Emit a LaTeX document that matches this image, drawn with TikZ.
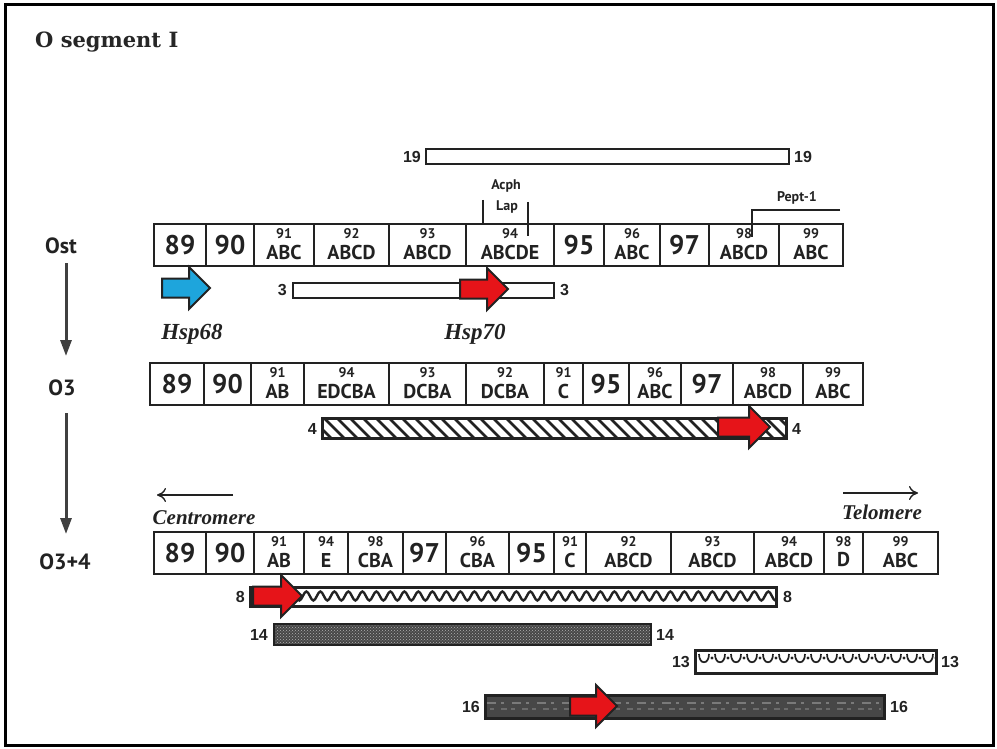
\documentclass[tikz,border=0pt]{standalone}
\usepackage{fontspec}
\setmainfont{Liberation Serif}
\setsansfont{Liberation Sans}
\newfontfamily\segfont{PT Sans}
\newfontfamily\titlefont{DejaVu Serif}
\usetikzlibrary{calc,patterns,decorations.pathmorphing,arrows.meta}
\definecolor{ink}{HTML}{222222}
\definecolor{hspred}{RGB}{230,20,25}
\definecolor{hspblue}{RGB}{30,165,220}
\def\nomark{-}
\tikzset{
 segbox/.style={draw=ink, line width=2pt, minimum height=42pt, inner sep=0pt, anchor=north west},
 bignum/.style={font=\segfont\bfseries\fontsize{27}{27}\selectfont, text=ink, inner sep=0pt},
 supnum/.style={font=\segfont\bfseries\fontsize{14}{14}\selectfont, text=ink, inner sep=0pt},
 bandltr/.style={font=\segfont\bfseries\fontsize{20}{20}\selectfont, text=ink, inner sep=0pt},
 rowlabel/.style={font=\segfont\bfseries\fontsize{22}{22}\selectfont, text=ink, inner sep=0pt},
 barbox/.style={draw=ink, line width=2pt, inner sep=0pt, anchor=north west},
 barnum/.style={font=\sffamily\bfseries\fontsize{16}{16}\selectfont, text=ink, inner sep=0pt},
 hsplabel/.style={font=\bfseries\itshape\fontsize{23}{23}\selectfont, text=ink, inner sep=0pt},
 endlabel/.style={font=\bfseries\itshape\fontsize{21}{21}\selectfont, text=ink, inner sep=0pt},
 locus/.style={font=\segfont\bfseries\fontsize{14}{14}\selectfont, text=ink, inner sep=0pt},
 evoarrow/.style={draw=black!75, line width=3pt, -{Triangle[length=16pt,width=11pt]}},
 dirarrow/.style={draw=ink, line width=1.3pt, -{To[length=9pt,width=14pt]}},
 tick/.style={draw=ink, line width=2pt},
 border/.style={draw=ink, line width=2pt},
}
\newcommand\segrow[3]{%
 \foreach \xa/\xb/\ta/\tb [count=\i] in {#3} {%
  \node[segbox, minimum width={\xb-\xa}] (#1\i) at (\xa,#2) {};
  \edef\tmpmark{\tb}%
  \ifx\tmpmark\nomark
   \node[bignum] (#1\i n) at (#1\i.center) {\ta};
  \else
   \node[supnum] (#1\i s) at ($(#1\i.north)+(0,11)$) {\ta};
   \node[bandltr] (#1\i l) at ($(#1\i.north)+(0,29)$) {\tb};
  \fi
 }}
% name, x1, x2, yc, colour
\newcommand\blockarrow[5]{%
 \coordinate (#1) at ({(#2+#3)/2},#4);
 \draw[ink, line width=2pt, fill=#5, line join=miter]
  (#2,#4-9.5) -- (#3-21,#4-9.5) -- (#3-21,#4-21) -- (#3,#4) -- (#3-21,#4+21)
  -- (#3-21,#4+9.5) -- (#2,#4+9.5) -- cycle;}
\begin{document}
\begin{tikzpicture}[x=1pt,y=-1pt]
\useasboundingbox (0,0) rectangle (997,749);
\fill[white] (0,0) rectangle (997,749);
\draw[black, line width=3pt] (5,5) rectangle (993,745);

\node[font=\titlefont\bfseries\fontsize{21}{21}\selectfont, text=black!85, anchor=west, inner sep=0pt] (title) at (35,42) {O segment I};

% row labels and evolution arrows
\node[rowlabel] (lOst) at (61,246) {Ost};
\node[rowlabel] (lO3) at (62,388) {O3};
\node[rowlabel] (lO34) at (65,562) {O3+4};
\coordinate (e1a) at (66,263); \coordinate (e1b) at (66,356);
\coordinate (e2a) at (66,413); \coordinate (e2b) at (66,534);
\draw[evoarrow] (e1a) -- (e1b);
\draw[evoarrow] (e2a) -- (e2b);

% Ost row
\segrow{ost}{223}{153/205/89/-, 205/253/90/-, 253/313/91/ABC, 313/388/92/ABCD, 388/465/93/ABCD, 465/553/94/ABCDE, 553/603/95/-, 603/659/96/ABC, 659/708/97/-, 708/778/98/ABCD, 778/842/99/ABC}
% O3 row
\segrow{othree}{362}{149/203/89/-, 203/250/90/-, 250/303/91/AB, 303/388/94/EDCBA, 388/465/93/DCBA, 465/543/92/DCBA, 543/582/91/C, 582/628/95/-, 628/680/96/ABC, 680/732/97/-, 732/802/98/ABCD, 802/862/99/ABC}
% O3+4 row
\segrow{ofour}{531}{153/205/89/-, 205/253/90/-, 253/303/91/AB, 303/347/94/E, 347/402/98/CBA, 402/445/97/-, 445/508/96/CBA, 508/553/95/-, 553/585/91/C, 585/670/92/ABCD, 670/753/93/ABCD, 753/823/94/ABCD, 823/862/98/D, 862/937/99/ABC}

% Acph / Lap
\node[locus] (acph) at (506,186) {Acph};
\node[locus] (lap) at (507,207) {Lap};
\coordinate (lapL1) at (483,200); \coordinate (lapL2) at (483,224);
\coordinate (lapR1) at (528,202); \coordinate (lapR2) at (528,236);
\draw[tick] (lapL1) -- (lapL2);
\draw[tick] (lapR1) -- (lapR2);
% Pept-1
\node[locus] (pept) at (797,198) {Pept-1};
\coordinate (pA) at (840,210); \coordinate (pB) at (752,210); \coordinate (pC) at (752,237);
\draw[tick] (pA) -- (pB) -- (pC);

% bar 19
\node[barbox, minimum width=363pt, minimum height=15pt] (b19) at (425,148) {};
\node[barnum, anchor=east] (b19l) at ($(b19.west)+(-4,0)$) {19};
\node[barnum, anchor=west] (b19r) at ($(b19.east)+(4,0)$) {19};
% bar 3
\node[barbox, minimum width=261pt, minimum height=15pt] (b3) at (292,282) {};
\node[barnum, anchor=east] (b3l) at ($(b3.west)+(-5,0)$) {3};
\node[barnum, anchor=west] (b3r) at ($(b3.east)+(5,0)$) {3};
% bar 4 (diagonal stripes)
\node[barbox, minimum width=463pt, minimum height=19pt] (b4) at (322,418) {};
\begin{scope}
 \clip (b4.north west) rectangle (b4.south east);
 \foreach \x in {296,309,...,790} \draw[ink, line width=2.8pt] (\x,416) -- ++(22,22);
\end{scope}
\draw[border] (b4.north west) rectangle (b4.south east);
\node[barnum, anchor=east] (b4l) at ($(b4.west)+(-5,0)$) {4};
\node[barnum, anchor=west] (b4r) at ($(b4.east)+(5,0)$) {4};
% bar 8 (wavy)
\node[barbox, minimum width=525pt, minimum height=18pt] (b8) at (250,587) {};
\begin{scope}
 \clip (b8.north west) rectangle (b8.south east);
 \draw[ink, line width=2.4pt, decorate, decoration={snake, amplitude=4.5pt, segment length=14pt}] (246,596) -- (782,596);
\end{scope}
\draw[border] (b8.north west) rectangle (b8.south east);
\node[barnum, anchor=east] (b8l) at ($(b8.west)+(-5,0)$) {8};
\node[barnum, anchor=west] (b8r) at ($(b8.east)+(6,0)$) {8};
% bar 14 (dark dotted)
\node[barbox, minimum width=377pt, minimum height=21pt,
  preaction={fill=black!72}, pattern=crosshatch dots, pattern color=black!30] (b14) at (273,623) {};
\node[barnum, anchor=east] (b14l) at ($(b14.west)+(-5,0)$) {14};
\node[barnum, anchor=west] (b14r) at ($(b14.east)+(4,0)$) {14};
% bar 13 (scallops and dots)
\node[barbox, minimum width=240pt, minimum height=22pt] (b13) at (695,650) {};
\begin{scope}
 \clip (b13.north west) rectangle (b13.south east);
 \foreach \x in {699,715,...,935} {
  \draw[ink, line width=1.7pt] (\x,654) .. controls (\x,665) and (\x+10,665) .. (\x+10,654);
  \fill[ink] (\x+13,658) circle (1.7pt);}
\end{scope}
\draw[border] (b13.north west) rectangle (b13.south east);
\node[barnum, anchor=east] (b13l) at ($(b13.west)+(-5,0)$) {13};
\node[barnum, anchor=west] (b13r) at ($(b13.east)+(4,0)$) {13};
% bar 16 (dark)
\node[barbox, minimum width=398pt, minimum height=22pt, fill=black!72] (b16) at (485,695) {};
\begin{scope}
 \clip (b16.north west) rectangle (b16.south east);
 \draw[black!52, line width=2pt, dash pattern=on 9pt off 5pt on 3pt off 8pt] (487,703) -- (881,703);
 \draw[black!58, line width=1.5pt, dash pattern=on 4pt off 7pt on 6pt off 4pt] (490,709) -- (881,709);
\end{scope}
\draw[border] (b16.north west) rectangle (b16.south east);
\node[barnum, anchor=east] (b16l) at ($(b16.west)+(-5,0)$) {16};
\node[barnum, anchor=west] (b16r) at ($(b16.east)+(5,0)$) {16};

% gene arrows
\blockarrow{hsp68}{162}{210}{288}{hspblue}
\blockarrow{hsp70}{460}{508}{289}{hspred}
\blockarrow{ra4}{718}{770}{427}{hspred}
\blockarrow{ra8}{253}{302}{596}{hspred}
\blockarrow{ra16}{570}{617}{706}{hspred}
\node[hsplabel] (t68) at (192,334) {Hsp68};
\node[hsplabel] (t70) at (475,334) {Hsp70};

% centromere / telomere
\coordinate (cenA) at (233,495); \coordinate (cenB) at (157,495);
\draw[dirarrow] (cenA) -- (cenB);
\node[endlabel] (cen) at (204,518) {Centromere};
\coordinate (telA) at (843,493); \coordinate (telB) at (918,493);
\draw[dirarrow] (telA) -- (telB);
\node[endlabel] (tel) at (882,512) {Telomere};
\end{tikzpicture}
\end{document}
